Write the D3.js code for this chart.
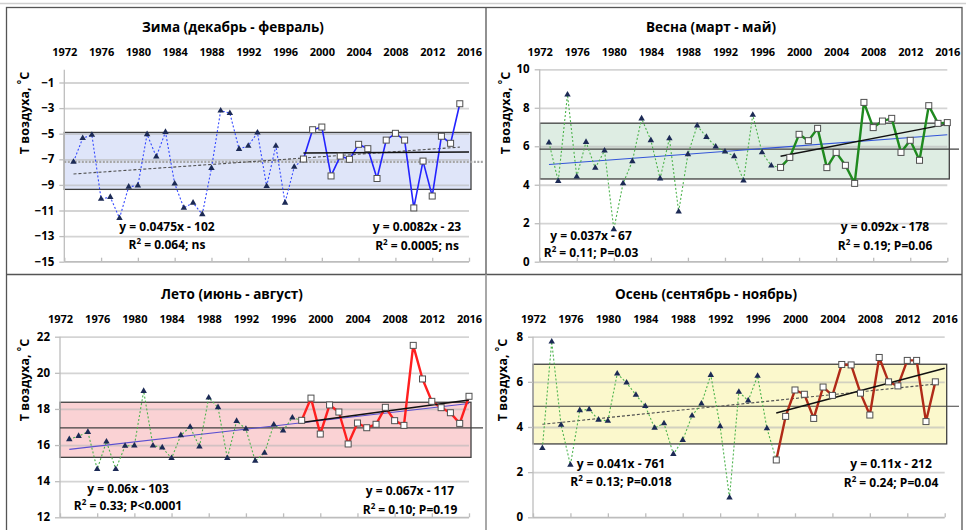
<!DOCTYPE html>
<html><head><meta charset="utf-8">
<script src="https://cdn.jsdelivr.net/npm/d3@7"></script>
<style>
body{margin:0;background:#fff}
svg{display:block}
text{font-family:"Open Sans","Noto Sans",sans-serif;font-weight:bold;fill:#000}
</style>
</head><body>
<svg id="c" width="966" height="530"></svg>
<script>
// ---------------- DATA ----------------
const years = [1973,1974,1975,1976,1977,1978,1979,1980,1981,1982,
               1983,1984,1985,1986,1987,1988,1989,1990,1991,1992,
               1993,1994,1995,1996,1997,1998,1999,2000,2001,2002,
               2003,2004,2005,2006,2007,2008,2009,2010,2011,2012,
               2013,2014,2015,2016];
const tickYears = [1972,1976,1980,1984,1988,1992,1996,2000,2004,2008,2012,2016];
const splitYear = 1998;

const winterT = [-7.2,-5.35,-5.1,-10.1,-9.95,-11.6,-9.15,-9.05,-5.05,-6.8,
                 -4.87,-8.9,-10.8,-10.4,-11.3,-7.7,-3.2,-3.4,-6.2,-5.95,
                 -4.92,-9.1,-5.95,-10.4,-7.6,-6.98,-4.69,-4.48,-8.3,-6.75,
                 -7.0,-5.83,-6.17,-8.5,-5.5,-4.97,-5.5,-10.8,-7.14,-9.87,
                 -5.2,-5.75,-2.66];
const springT = [6.19,4.19,8.68,4.42,6.22,4.87,5.77,1.68,4.07,5.22,
                 7.44,6.31,4.32,6.41,2.6,5.58,7.07,6.48,5.98,5.72,
                 5.48,4.21,7.63,5.68,4.99,4.9,5.42,6.62,6.29,6.93,
                 4.89,5.68,5.01,4.07,8.28,6.97,7.31,7.45,5.68,6.31,
                 5.27,8.11,7.19,7.23];
const summerT = [16.32,16.5,16.72,14.66,16.19,14.66,15.95,15.97,18.99,15.97,
                 15.86,15.27,16.54,17.0,15.91,18.62,18.09,15.27,17.33,16.89,
                 15.12,15.56,17.13,16.8,17.52,17.37,18.6,16.61,18.22,17.83,
                 16.06,17.22,16.96,17.15,18.09,17.35,17.09,21.52,19.66,18.42,
                 18.07,17.79,17.2,18.7];
const autumnT = [3.06,7.78,4.09,2.32,4.74,4.78,4.32,4.27,6.36,5.96,
                 5.42,4.92,3.96,4.16,2.8,3.42,4.5,5.03,6.3,4.03,
                 0.87,5.55,5.17,6.26,3.94,2.54,4.47,5.64,5.45,4.38,
                 5.77,5.4,6.77,6.75,5.5,4.53,7.08,6.0,5.82,6.95,
                 6.95,4.24,6.0];

const winterTicks = [-15,-13,-11,-9,-7,-5,-3,-1];
const springTicks = [0,2,4,6,8,10];
const summerTicks = [12,14,16,18,20,22];
const autumnTicks = [0,2,4,6,8];

// band [low, high], mean
const winterBand = [-9.35,-4.9],  winterMean = -7.2;
const springBand = [4.3,7.2],     springMean = 5.85;
const summerBand = [15.32,18.37], summerMean = 16.95;
const autumnBand = [3.25,6.78],   autumnMean = 4.92;

// trend lines [year0, value0, year1, value1]
const winterTrendAll = [1973,-8.15,2015,-6.05], winterTrendLate = [1998,-6.5,2016,-6.42];
const springTrendAll = [1973,5.05,2016,6.6],    springTrendLate = [1998,5.48,2016,7.15];
const summerTrendAll = [1973,15.76,2016,18.3],  summerTrendLate = [1998,17.25,2016,18.5];
const autumnTrendAll = [1973,4.12,2015,5.9],    autumnTrendLate = [1998,4.62,2016,6.6];

const titles = ["Зима (декабрь - февраль)","Весна (март - май)","Лето (июнь - август)","Осень (сентябрь - ноябрь)"];
const eqLeft  = [["y = 0.0475x - 102","0.064; ns"],["y = 0.037x - 67","0.11; P=0.03"],["y = 0.06x - 103","0.33; P<0.0001"],["y = 0.041x - 761","0.13; P=0.018"]];
const eqRight = [["y = 0.0082x - 23","0.0005; ns"],["y = 0.092x - 178","0.19; P=0.06"],["y = 0.067x - 117","0.10; P=0.19"],["y = 0.11x - 212","0.24; P=0.04"]];

// ---------------- LAYOUT ----------------
const svg = d3.select("#c");

const panels = [
 {vals:winterT, ticks:winterTicks, dom:[-15,0], xr:[64.3,469], yr:[261.7,69.7], band:winterBand, mean:winterMean,
  tAll:winterTrendAll, tLate:winterTrendLate, title:titles[0], tx:233, ty:32, yl:[25,113], px1:483,
  lineCol:"#2323ff", lateW:1.6, dotCol:"#3348ff", bandFill:"#dfe5f9", meanStyle:"dotgray", allStyle:"dash",
  eqL:eqLeft[0], eqR:eqRight[0], eL:[167,231,249], eR:[417,231,250], yearY:56},
 {vals:springT, ticks:springTicks, dom:[0,10], xr:[539.7,947.3], yr:[261.7,69.3], band:springBand, mean:springMean,
  tAll:springTrendAll, tLate:springTrendLate, title:titles[1], tx:711, ty:32, yl:[506,113], px1:959,
  lineCol:"#1f8a1f", lateW:2.4, dotCol:"#4db34d", bandFill:"#deede3", meanStyle:"solid", allStyle:"blue",
  eqL:eqLeft[1], eqR:eqRight[1], eL:[591,240,257], eR:[885,231,250], yearY:56},
 {vals:summerT, ticks:summerTicks, dom:[12,22], xr:[60,469], yr:[517.3,336.7], band:summerBand, mean:summerMean,
  tAll:summerTrendAll, tLate:summerTrendLate, title:titles[2], tx:232, ty:299, yl:[25,380], px1:483,
  lineCol:"#ff1f1f", lateW:2.4, dotCol:"#4db34d", bandFill:"#fad2d4", meanStyle:"solid", allStyle:"purple",
  eqL:eqLeft[2], eqR:eqRight[2], eL:[128,493,510], eR:[410,495,514], yearY:323},
 {vals:autumnT, ticks:autumnTicks, dom:[0,8], xr:[533,944.7], yr:[517.3,336.7], band:autumnBand, mean:autumnMean,
  tAll:autumnTrendAll, tLate:autumnTrendLate, title:titles[3], tx:706, ty:299, yl:[503,380], px1:959,
  lineCol:"#b02a18", lateW:2.4, dotCol:"#4db34d", bandFill:"#fbf8cc", meanStyle:"solid", allStyle:"dash",
  eqL:eqLeft[3], eqR:eqRight[3], eL:[621,468,486], eR:[891,468,487], yearY:323}
];

// frame
svg.append("line").attr("x1",0).attr("x2",966).attr("y1",3.5).attr("y2",3.5).attr("stroke","#cfcfcf").attr("stroke-width",1.5);
svg.append("rect").attr("x",6.5).attr("y",7.5).attr("width",955.5).attr("height",530).attr("fill","none").attr("stroke","#555").attr("stroke-width",1.3);
svg.append("line").attr("x1",6.5).attr("x2",962).attr("y1",274.5).attr("y2",274.5).attr("stroke","#555").attr("stroke-width",1.3);
svg.append("line").attr("x1",486).attr("x2",486).attr("y1",7.5).attr("y2",274.5).attr("stroke","#555").attr("stroke-width",1.3);
svg.append("line").attr("x1",486).attr("x2",486).attr("y1",274.5).attr("y2",530).attr("stroke","#a8a8a8").attr("stroke-width",2);

panels.forEach(p => {
  const g = svg.append("g");
  const x = d3.scaleLinear().domain([1972,2016]).range(p.xr);
  const y = d3.scaleLinear().domain(p.dom).range(p.yr);
  const n = p.vals.length;
  const pts = p.vals.map((v,i)=>({yr:years[i], v}));
  const early = pts.filter(d=>d.yr<=splitYear);
  const late = pts.filter(d=>d.yr>=splitYear);

  // band
  g.append("rect").attr("x",p.xr[0]).attr("width",p.xr[1]-p.xr[0]+2)
    .attr("y",y(p.band[1])).attr("height",y(p.band[0])-y(p.band[1]))
    .attr("fill",p.bandFill);

  // gridlines
  const grid = g.append("g").attr("transform",`translate(${p.xr[0]},0)`)
    .call(d3.axisLeft(y).tickValues(p.ticks).tickSize(-(p.xr[1]-p.xr[0])).tickFormat(""));
  grid.select(".domain").remove();
  grid.selectAll(".tick line").attr("stroke","#b8b8b8").attr("stroke-opacity",0.6).attr("stroke-width",1.8);

  // band border
  g.append("rect").attr("x",p.xr[0]).attr("width",p.xr[1]-p.xr[0]+2)
    .attr("y",y(p.band[1])).attr("height",y(p.band[0])-y(p.band[1]))
    .attr("fill","none").attr("stroke","#404040").attr("stroke-width",1.3);

  // y axis
  const ya = g.append("g").attr("transform",`translate(${p.xr[0]},0)`)
    .call(d3.axisLeft(y).tickValues(p.ticks).tickSize(5).tickPadding(5));
  ya.select(".domain").attr("stroke","#bdbdbd").attr("stroke-width",1.3).attr("d",`M-0,${p.yr[1]}V${p.yr[0]}`);
  ya.selectAll(".tick line").attr("stroke","#bdbdbd").attr("stroke-width",1.3);
  ya.selectAll(".tick text").attr("font-size",11.5).style("font-family","'Open Sans',sans-serif").style("font-weight","bold");

  // bottom axis line with upward ticks
  const xb = g.append("g").attr("transform",`translate(0,${p.yr[0]})`)
    .call(d3.axisTop(x).tickValues(tickYears).tickSize(4).tickFormat(""));
  xb.select(".domain").attr("stroke","#bdbdbd").attr("stroke-width",1.3).attr("d",`M${p.xr[0]},0H${p.xr[1]}`);
  xb.selectAll(".tick line").attr("stroke","#bdbdbd").attr("stroke-width",1.3);

  // top year labels
  const xt = g.append("g").attr("transform",`translate(0,${p.yearY})`)
    .call(d3.axisTop(x).tickValues(tickYears).tickSize(0).tickPadding(0).tickFormat(d3.format("d")));
  xt.select(".domain").remove();
  xt.selectAll(".tick text").attr("font-size",11).attr("dy",0).style("font-family","'Open Sans',sans-serif").style("font-weight","bold");

  // mean line
  const ml = g.append("line").attr("x1",p.xr[0]).attr("x2",p.px1).attr("y1",y(p.mean)).attr("y2",y(p.mean));
  if (p.meanStyle==="dotgray") ml.attr("stroke","#a6a6a6").attr("stroke-width",2.2).attr("stroke-dasharray","2,1.5");
  else ml.attr("stroke","#404040").attr("stroke-width",1.1);

  // overall trend
  const ta = g.append("line").attr("x1",x(p.tAll[0])).attr("y1",y(p.tAll[1])).attr("x2",x(p.tAll[2])).attr("y2",y(p.tAll[3]));
  if (p.allStyle==="dash") ta.attr("stroke","#505050").attr("stroke-width",1.1).attr("stroke-dasharray","3,2");
  else if (p.allStyle==="blue") ta.attr("stroke","#3355d8").attr("stroke-width",1.1);
  else ta.attr("stroke","#5a4fd0").attr("stroke-width",1.1);

  // data lines
  const line = d3.line().x(d=>x(d.yr)).y(d=>y(d.v));
  g.append("path").attr("d",line(early)).attr("fill","none").attr("stroke",p.dotCol).attr("stroke-width",1.1).attr("stroke-dasharray","2,2");
  g.append("path").attr("d",line(late)).attr("fill","none").attr("stroke",p.lineCol).attr("stroke-width",p.lateW).attr("stroke-linejoin","round");

  // late trend
  g.append("line").attr("x1",x(p.tLate[0])).attr("y1",y(p.tLate[1])).attr("x2",x(p.tLate[2])).attr("y2",y(p.tLate[3]))
    .attr("stroke","#111").attr("stroke-width",1.5);

  // markers
  const tri = d3.symbol().type(d3.symbolTriangle).size(18);
  g.selectAll(".tri").data(early.filter(d=>d.yr<splitYear)).join("path")
    .attr("transform",d=>`translate(${x(d.yr)},${y(d.v)})`).attr("d",tri).attr("fill","#1c2a55");
  g.selectAll(".sq").data(late).join("rect")
    .attr("x",d=>x(d.yr)-3).attr("y",d=>y(d.v)-3).attr("width",6).attr("height",6)
    .attr("fill","#fff").attr("stroke","#505050").attr("stroke-width",1);

  // title
  g.append("text").attr("x",p.tx).attr("y",p.ty).attr("text-anchor","middle").attr("font-size",13.5).text(p.title);

  // y label
  const yl = g.append("text").attr("transform",`translate(${p.yl[0]+4},${p.yl[1]}) rotate(-90)`).attr("text-anchor","middle").attr("font-size",12.5);
  yl.append("tspan").text("T воздуха, ");
  yl.append("tspan").attr("dy",-4).attr("font-size",10).text("°");
  yl.append("tspan").attr("dy",4).text("C");

  // equations
  const eq = (pos, e) => {
    g.append("text").attr("x",pos[0]).attr("y",pos[1]).attr("text-anchor","middle").attr("font-size",12).text(e[0]);
    const t = g.append("text").attr("x",pos[0]).attr("y",pos[2]).attr("text-anchor","middle").attr("font-size",12);
    t.append("tspan").text("R");
    t.append("tspan").attr("dy",-5).attr("font-size",8).text("2");
    t.append("tspan").attr("dy",5).text(" = " + e[1]);
  };
  eq(p.eL, p.eqL);
  eq(p.eR, p.eqR);
});
</script>
</body></html>
